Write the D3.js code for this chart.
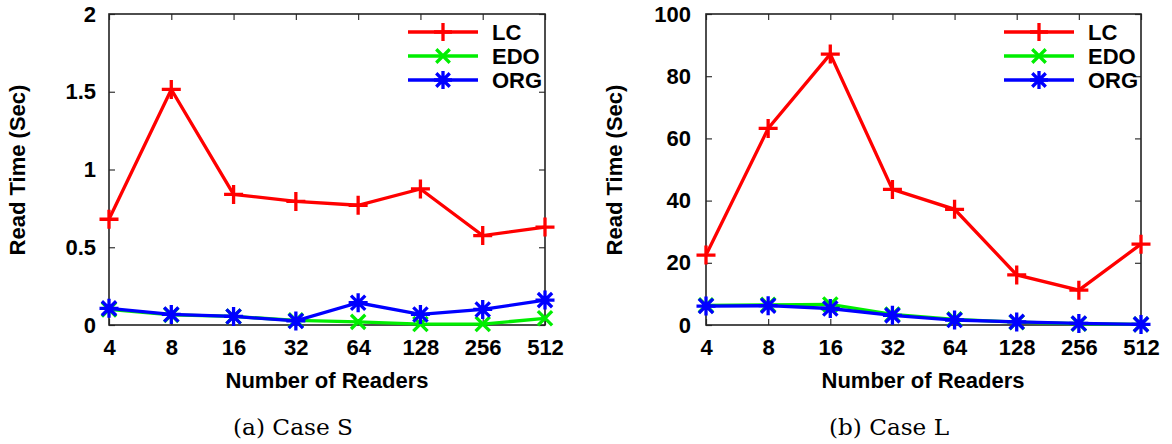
<!DOCTYPE html>
<html>
<head>
<meta charset="utf-8">
<script src="https://cdn.jsdelivr.net/npm/d3@7"></script>
<style>
  body { margin: 0; background: #fff; }
  svg { display: block; }
  .tick text { font-family: "Liberation Sans", Arial, sans-serif; font-weight: bold; font-size: 22px; fill: #000; }
</style>
</head>
<body>
<svg id="chart" width="1172" height="444"></svg>
<script>
// readers on the x axis
var readers = ["4", "8", "16", "32", "64", "128", "256", "512"];
var seriesNames = ["LC", "EDO", "ORG"];

// case S (seconds)
var lcS  = [0.68, 1.515, 0.84, 0.795, 0.77, 0.875, 0.575, 0.63];
var edoS = [0.10, 0.065, 0.055, 0.03, 0.02, 0.006, 0.006, 0.043];
var orgS = [0.107, 0.068, 0.055, 0.026, 0.143, 0.068, 0.10, 0.16];
var yTicksS = [0, 0.5, 1, 1.5, 2];

// case L (seconds)
var lcL  = [22.5, 63.2, 87.1, 43.6, 37.2, 16.1, 11.2, 26];
var edoL = [6.3, 6.5, 6.6, 3.4, 1.8, 0.9, 0.4, 0.2];
var orgL = [6.1, 6.2, 5.3, 3.1, 1.6, 1.0, 0.5, 0.2];
var yTicksL = [0, 20, 40, 60, 80, 100];

var colors = ["#ff0000", "#00ee00", "#0000ff"];
var svg = d3.select("#chart");
var sans = "Liberation Sans, Arial, sans-serif";

function markerPath(kind, s) {
  var plus = "M" + (-s) + ",0H" + s + "M0," + (-s) + "V" + s;
  var d = s * 0.75;
  var cross = "M" + (-d) + "," + (-d) + "L" + d + "," + d + "M" + (-d) + "," + d + "L" + d + "," + (-d);
  if (kind == 0) return plus;
  if (kind == 1) return cross;
  return plus + cross;
}

function drawPanel(opt) {
  var g = svg.append("g");
  var x = d3.scalePoint().domain(readers).range([opt.left, opt.right]);
  var y = d3.scaleLinear().domain([0, opt.ymax]).range([325, 14]);

  // axes, ticks point inward like gnuplot
  g.append("g").attr("transform", "translate(0,325)")
    .call(d3.axisBottom(x).tickSize(-6).tickPadding(14))
    .call(function(a) { a.select(".domain").remove(); });
  g.append("g").attr("transform", "translate(0,14)")
    .call(d3.axisTop(x).tickSize(-6).tickFormat(""))
    .call(function(a) { a.select(".domain").remove(); });
  g.append("g").attr("transform", "translate(" + opt.left + ",0)")
    .call(d3.axisLeft(y).tickValues(opt.ticks).tickSize(-6).tickPadding(opt.pad).tickFormat(d3.format("")))
    .call(function(a) { a.select(".domain").remove(); });
  g.append("g").attr("transform", "translate(" + opt.right + ",0)")
    .call(d3.axisRight(y).tickValues(opt.ticks).tickSize(-6).tickFormat(""))
    .call(function(a) { a.select(".domain").remove(); });
  g.selectAll(".tick line").attr("stroke", "#333").attr("stroke-width", 1.2);

  g.append("rect")
    .attr("x", opt.left).attr("y", 14)
    .attr("width", opt.right - opt.left).attr("height", 311)
    .attr("fill", "none").attr("stroke", "#222").attr("stroke-width", 1.6);

  var line = d3.line()
    .x(function(d, i) { return x(readers[i]); })
    .y(function(d) { return y(d); });

  opt.series.forEach(function(vals, k) {
    g.append("path").datum(vals)
      .attr("d", line)
      .attr("fill", "none").attr("stroke", colors[k]).attr("stroke-width", 3.3);
    g.selectAll(".m" + k).data(vals).enter().append("path")
      .attr("transform", function(d, i) { return "translate(" + x(readers[i]) + "," + y(d) + ")"; })
      .attr("d", markerPath(k, 9.5))
      .attr("fill", "none").attr("stroke", colors[k]).attr("stroke-width", 3.3);
  });

  // legend
  seriesNames.forEach(function(name, k) {
    var ly = 32 + k * 24;
    g.append("line").attr("x1", opt.legX).attr("x2", opt.legX + 70)
      .attr("y1", ly).attr("y2", ly)
      .attr("stroke", colors[k]).attr("stroke-width", 3.3);
    g.append("path").attr("transform", "translate(" + (opt.legX + 35) + "," + ly + ")")
      .attr("d", markerPath(k, 9))
      .attr("fill", "none").attr("stroke", colors[k]).attr("stroke-width", 3.3);
    g.append("text").attr("x", opt.legX + 84).attr("y", ly).attr("dy", "0.36em")
      .style("font-family", sans)
      .style("font-weight", "bold").style("font-size", "22px")
      .text(name);
  });

  g.append("text")
    .attr("x", opt.labX).attr("y", 388)
    .attr("text-anchor", "middle")
    .style("font-family", sans)
    .style("font-weight", "bold").style("font-size", "22px")
    .text("Number of Readers");

  g.append("text")
    .attr("transform", "translate(" + (opt.left - 84) + ",170) rotate(-90)")
    .attr("text-anchor", "middle")
    .style("font-family", sans)
    .style("font-weight", "bold").style("font-size", "22px")
    .text("Read Time (Sec)");

  g.append("text")
    .attr("x", opt.capX - 60).attr("y", 435)
    .attr("textLength", 120).attr("lengthAdjust", "spacingAndGlyphs")
    .style("font-family", "DejaVu Serif, serif")
    .style("font-size", "23px")
    .text(opt.caption);
}

drawPanel({ left: 109, right: 545, ymax: 2, ticks: yTicksS, pad: 13, series: [lcS, edoS, orgS],
            legX: 408, labX: 327, caption: "(a)  Case S", capX: 293 });
drawPanel({ left: 706, right: 1141, ymax: 100, ticks: yTicksL, pad: 15, series: [lcL, edoL, orgL],
            legX: 1004, labX: 923, caption: "(b)  Case L", capX: 889 });
</script>
</body>
</html>
